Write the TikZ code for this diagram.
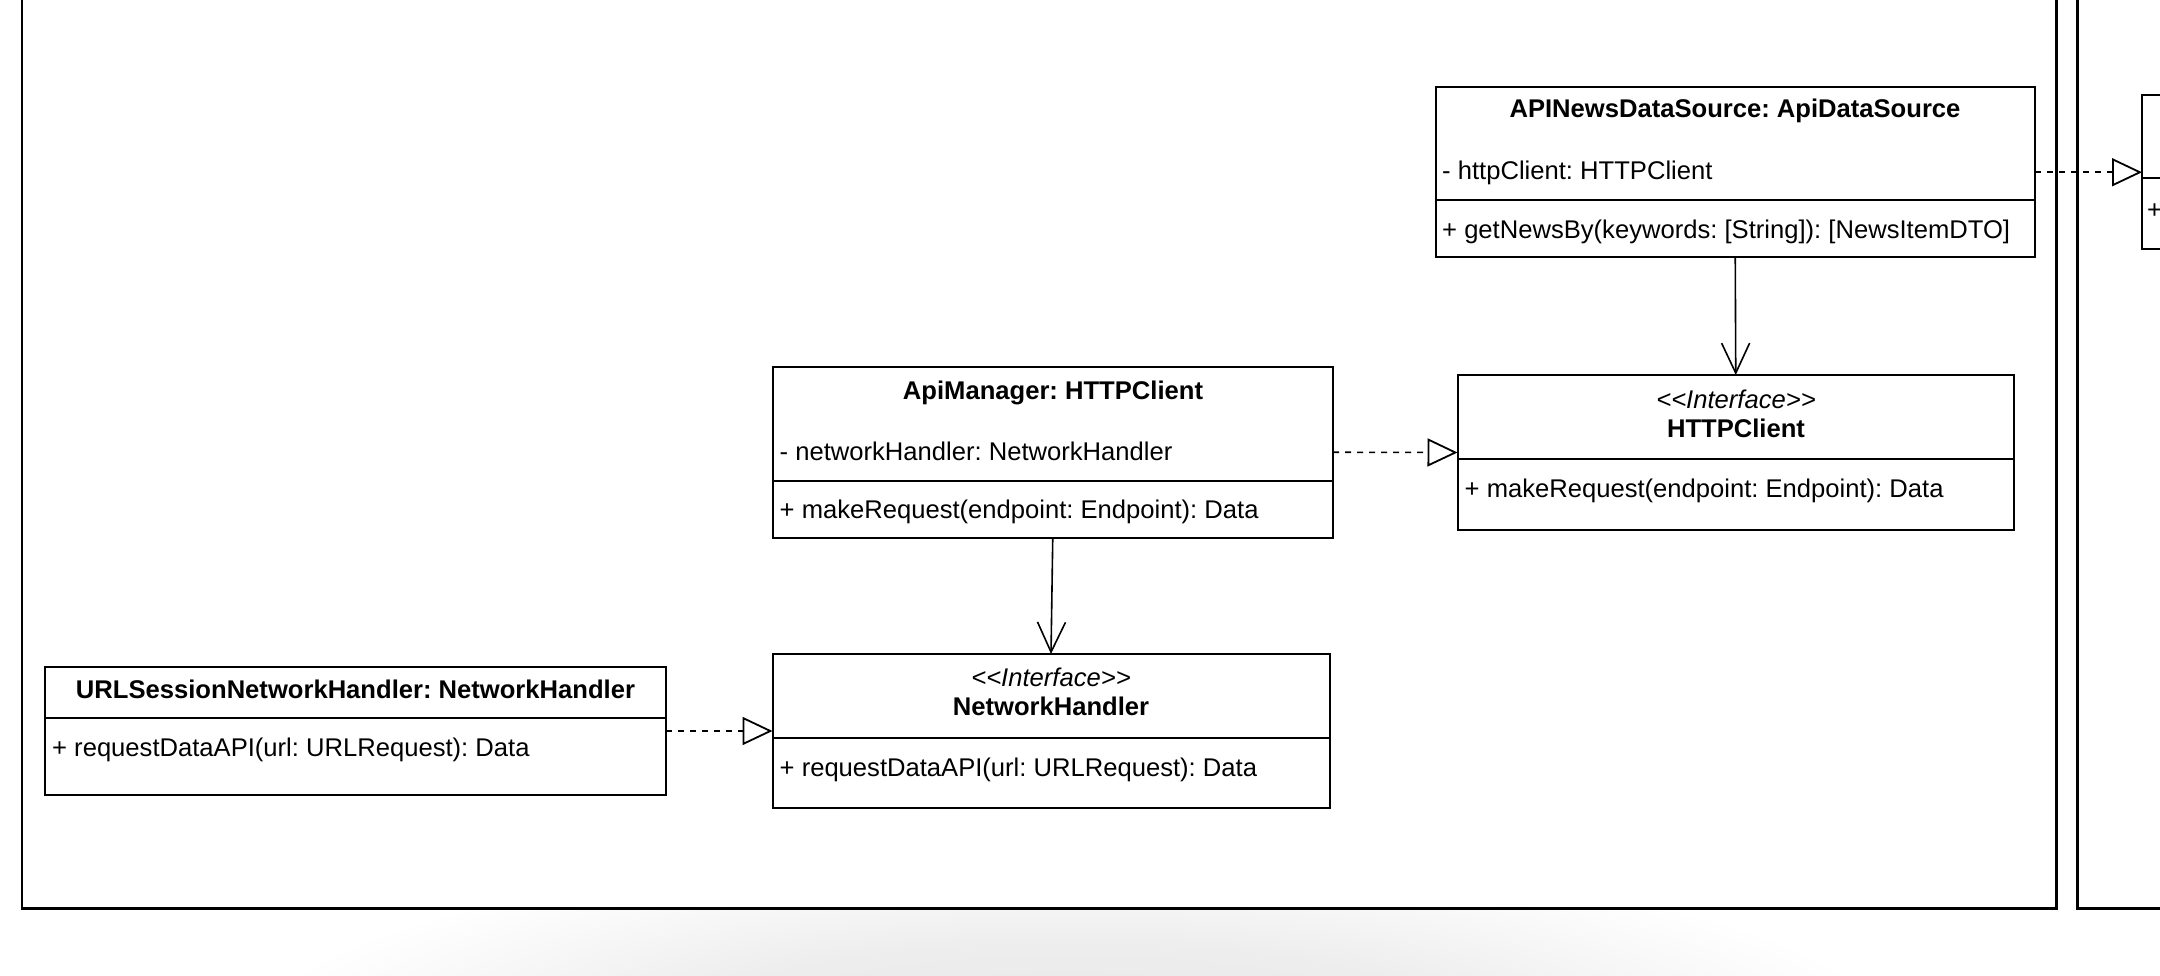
\documentclass[tikz,border=0pt]{standalone}
\usepackage{fontspec}
\newfontfamily\umlfont{Liberation Sans}
\usetikzlibrary{arrows.meta}
\pgfdeclareradialshading{softshadow}{\pgfpoint{0bp}{0bp}}{color(0bp)=(black!9); color(12bp)=(black!7); color(25bp)=(white); color(50bp)=(white)}
\frenchspacing
\begin{document}
\begin{tikzpicture}[x=1pt,y=-1pt,
  frame/.style={draw=black, line width=2.4pt, fill=white},
  box/.style={draw=black, line width=2pt, fill=white, inner sep=0pt, outer sep=0pt, anchor=north west},
  sep/.style={draw=black, line width=2pt},
  txt/.style={inner sep=0pt, anchor=base west, font=\umlfont\fontsize{25.6}{30}\selectfont},
  ttl/.style={inner sep=0pt, anchor=base, font=\umlfont\bfseries\fontsize{25.6}{30}\selectfont},
  stereo/.style={inner sep=0pt, anchor=base, font=\umlfont\itshape\fontsize{25.6}{30}\selectfont},
  realize/.style={draw=black, line width=1.6pt, dash pattern=on 6pt off 6pt, -{Triangle[open, length=30pt, width=28pt, line width=1.8pt]}},
  assoc/.style={draw=black, line width=1.6pt, -{Straight Barb[length=30pt, width=28pt, line width=1.6pt]}}
]
\useasboundingbox (0,0) rectangle (2160,976);
\clip (0,0) rectangle (2160,976);
\fill[white] (0,0) rectangle (2160,976);
% soft shadow below the frames
\begin{scope}
  \clip (0,880) rectangle (2160,976);
  \shade[shading=softshadow] (1070,1030) ellipse (820 and 180);
\end{scope}
% frames
\draw[frame] (22,-20) rectangle (2056.5,908.5);
\draw[frame] (2077.5,-20) rectangle (2240,908.5);

% APINewsDataSource
\node[box, minimum width=599.5pt, minimum height=170.5pt] (apinews) at (1435.5,87) {};
\draw[sep] (apinews.west |- 0,200) -- (apinews.east |- 0,200);
\node[ttl] (apinewsT) at (1735,118) {APINewsDataSource: ApiDataSource};
\node[txt] (apinewsA) at (1442,180) {- httpClient: HTTPClient};
\node[txt] (apinewsM) at (1442,239) {+ getNewsBy(keywords: [String]): [NewsItemDTO]};

% partial box at right
\node[box, minimum width=120pt, minimum height=154pt] (rbox) at (2142,95) {};
\draw[sep] (rbox.west |- 0,178) -- (rbox.east |- 0,178);
\node[txt] (rboxM) at (2147,219) {+};

% ApiManager
\node[box, minimum width=560.5pt, minimum height=171.5pt] (apimgr) at (772.5,366.5) {};
\draw[sep] (apimgr.west |- 0,481) -- (apimgr.east |- 0,481);
\node[ttl] (apimgrT) at (1053,399) {ApiManager: HTTPClient};
\node[txt] (apimgrA) at (779.5,460) {- networkHandler: NetworkHandler};
\node[txt] (apimgrM) at (779.5,518) {+ makeRequest(endpoint: Endpoint): Data};

% HTTPClient interface
\node[box, minimum width=556.5pt, minimum height=155pt] (httpc) at (1457.5,375) {};
\draw[sep] (httpc.west |- 0,459) -- (httpc.east |- 0,459);
\node[stereo] (httpcS) at (1736,408) {<<Interface>>};
\node[ttl] (httpcT) at (1736,437) {HTTPClient};
\node[txt] (httpcM) at (1464.5,497) {+ makeRequest(endpoint: Endpoint): Data};

% NetworkHandler interface
\node[box, minimum width=557pt, minimum height=154pt] (nethandler) at (772.5,654) {};
\draw[sep] (nethandler.west |- 0,738) -- (nethandler.east |- 0,738);
\node[stereo] (nethandlerS) at (1051,686) {<<Interface>>};
\node[ttl] (nethandlerT) at (1051,715) {NetworkHandler};
\node[txt] (nethandlerM) at (779.5,776) {+ requestDataAPI(url: URLRequest): Data};

% URLSessionNetworkHandler
\node[box, minimum width=621pt, minimum height=128pt] (urlsess) at (45,667) {};
\draw[sep] (urlsess.west |- 0,717.5) -- (urlsess.east |- 0,717.5);
\node[ttl] (urlsessT) at (355.5,698.5) {URLSessionNetworkHandler: NetworkHandler};
\node[txt] (urlsessM) at (52,756.5) {+ requestDataAPI(url: URLRequest): Data};

% connectors
\draw[realize] (apinews.east) -- (apinews.east -| rbox.west);
\draw[realize] (apimgr.east) -- (httpc.west);
\draw[realize] (urlsess.east) -- (nethandler.west);
\draw[assoc] (apinews.south) -- (httpc.north);
\draw[assoc] (apimgr.south) -- (nethandler.north);
\end{tikzpicture}
\end{document}
